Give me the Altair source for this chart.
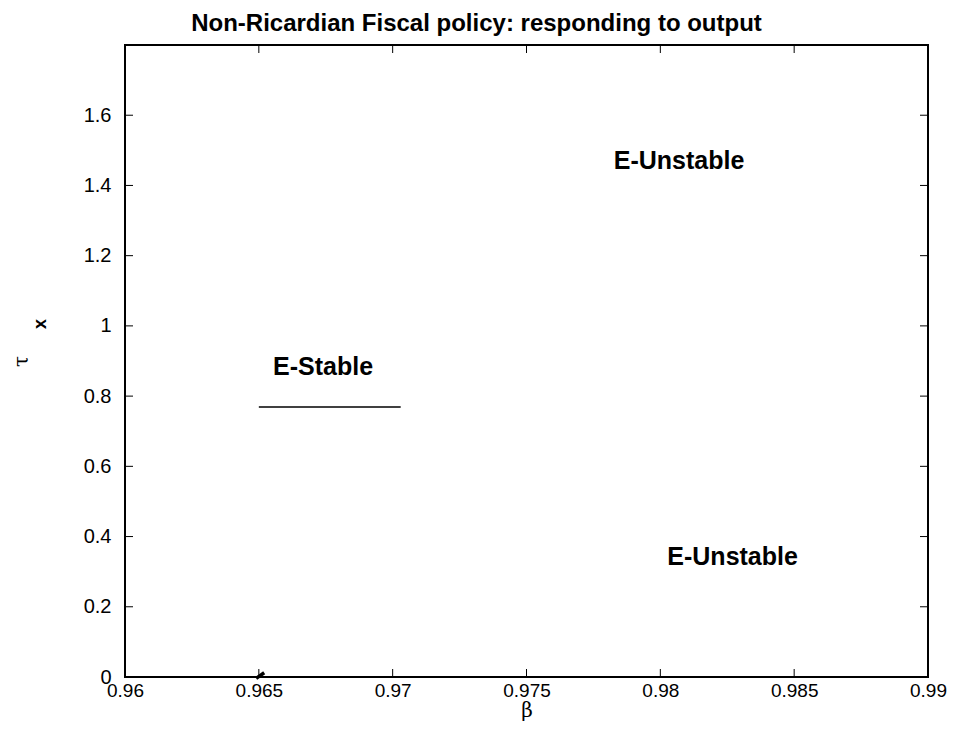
import altair as alt
import pandas as pd

# data
x_ticks = [0.96, 0.965, 0.97, 0.975, 0.98, 0.985, 0.99]
y_ticks = [0, 0.2, 0.4, 0.6, 0.8, 1.0, 1.2, 1.4, 1.6]

boundary_beta = [0.965, 0.9703]
boundary_tau = [0.769, 0.769]

blob_beta = [0.96490, 0.96520]
blob_tau = [-0.004, 0.012]

label_text = ["E-Unstable", "E-Stable", "E-Unstable"]
label_beta = [0.9807, 0.9674, 0.9827]
label_tau = [1.471, 0.883, 0.343]

W, H = 803, 632
FONT = "Liberation Sans"

xs = alt.Scale(domain=[0.96, 0.99], nice=False, zero=False)
ys = alt.Scale(domain=[0, 1.8], nice=False, zero=False)

df_line = pd.DataFrame({"beta": boundary_beta, "tau": boundary_tau})
df_blob = pd.DataFrame({"beta": blob_beta, "tau": blob_tau})
df_lab = pd.DataFrame({"t": label_text, "beta": label_beta, "tau": label_tau})
df_xt = pd.DataFrame({"v": x_ticks})
df_yt = pd.DataFrame({"v": y_ticks})

base_x = alt.X("beta:Q", scale=xs,
               axis=alt.Axis(values=x_ticks, format="~g", tickSize=0, domain=False,
                             grid=False, labelFont=FONT, labelFontSize=19,
                             labelColor="black", labelPadding=4, labelFlush=False,
                             title="β", titleFont="DejaVu Serif", titleFontSize=20,
                             titleFontWeight="normal", titleColor="black", titlePadding=0))
base_y = alt.Y("tau:Q", scale=ys,
               axis=alt.Axis(values=y_ticks, format="~g", tickSize=0, domain=False,
                             grid=False, labelFont=FONT, labelFontSize=20,
                             labelColor="black", labelPadding=14, labelFlush=False,
                             title="τ", titleFont="DejaVu Serif", titleFontSize=20,
                             titleFontWeight="normal", titleColor="black", titlePadding=52))

line = alt.Chart(df_line).mark_line(color="black", strokeWidth=1.3).encode(x=base_x, y=base_y)
blob = alt.Chart(df_blob).mark_line(color="black", strokeWidth=3.5).encode(x="beta:Q", y="tau:Q")
labels = alt.Chart(df_lab).mark_text(font=FONT, fontSize=25, fontWeight="bold",
                                     color="black").encode(x="beta:Q", y="tau:Q", text="t:N")

tick_len = 8
xt_bot = alt.Chart(df_xt).mark_rule(color="black", strokeWidth=1).encode(
    x=alt.X("v:Q", scale=xs), y=alt.value(H - tick_len), y2=alt.value(H))
xt_top = alt.Chart(df_xt).mark_rule(color="black", strokeWidth=1).encode(
    x=alt.X("v:Q", scale=xs), y=alt.value(0), y2=alt.value(tick_len))
yt_left = alt.Chart(df_yt).mark_rule(color="black", strokeWidth=1).encode(
    y=alt.Y("v:Q", scale=ys), x=alt.value(0), x2=alt.value(tick_len))
yt_right = alt.Chart(df_yt).mark_rule(color="black", strokeWidth=1).encode(
    y=alt.Y("v:Q", scale=ys), x=alt.value(W - tick_len), x2=alt.value(W))

frame = alt.Chart(pd.DataFrame({"f": [0]})).mark_rect(
    fill=None, stroke="black", strokeWidth=2, fillOpacity=0
).encode(x=alt.value(0), x2=alt.value(W), y=alt.value(0), y2=alt.value(H))

sub = alt.Chart(pd.DataFrame({"t": ["x"]})).mark_text(
    font=FONT, fontSize=18, fontWeight="bold", color="black", angle=270
).encode(text="t:N", x=alt.value(-84), y=alt.value(279))

chart = alt.layer(line, labels, xt_bot, xt_top, yt_left, yt_right, frame, blob, sub).properties(
    width=W, height=H,
    title=alt.TitleParams("Non-Ricardian Fiscal policy: responding to output",
                          font=FONT, fontSize=24, fontWeight="bold", color="black",
                          anchor="middle", offset=8, dx=-50),
    autosize=alt.AutoSizeParams(type="none"),
    padding={"left": 117, "top": 37, "right": 19, "bottom": 54},
).configure_view(stroke=None).configure(background="white")

chart.save("out.html", embed_options={"renderer": "svg", "actions": False})
